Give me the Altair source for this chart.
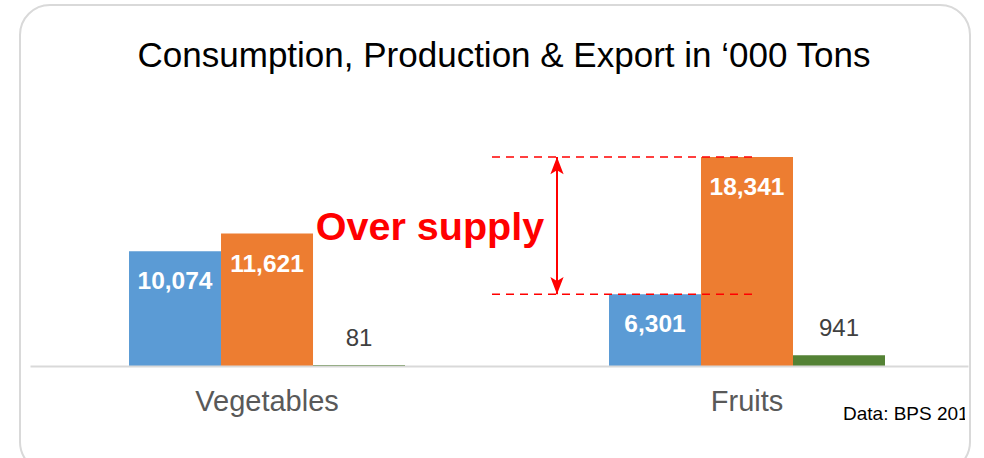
import altair as alt
import pandas as pd

categories = ["Vegetables", "Fruits"]
series = ["Consumption", "Production", "Export"]
consumption = [10074, 6301]
production = [11621, 18341]
export = [81, 941]
gap_values = [18341, 6301]
title_text = "Consumption, Production & Export in \u2018000 Tons"
note_text = "Data: BPS 201"
annot_text = "Over supply"

rows = []
for i, c in enumerate(categories):
    for s, vals in zip(series, [consumption, production, export]):
        rows.append({"cat": c, "series": s, "v": vals[i]})
df = pd.DataFrame(rows)

FONT = "Liberation Sans"
ydom = [0, 25098]
yscale = alt.Scale(domain=ydom, nice=False, zero=True)

x_enc = alt.X("cat:N", sort=categories, title=None,
              scale=alt.Scale(paddingInner=0.425, paddingOuter=0.1896, align=0.544),
              axis=alt.Axis(labelAngle=0, labelFontSize=29, labelColor="#595959", labelFont=FONT,
                            labelPadding=21, ticks=False, domainColor="#d9d9d9", domainWidth=2,
                            grid=False, zindex=1))
xo_enc = alt.XOffset("series:N", sort=series, scale=alt.Scale(paddingInner=0, paddingOuter=0))
y_enc = alt.Y("v:Q", scale=yscale, axis=None)

base = alt.Chart(df)

bars = base.mark_bar(cornerRadius=0).encode(
    x=x_enc, xOffset=xo_enc, y=y_enc,
    color=alt.Color("series:N", sort=series, legend=None,
                    scale=alt.Scale(domain=series, range=["#5b9bd5", "#ed7d31", "#548235"])),
)

inside = base.transform_filter(alt.datum.series != "Export").mark_text(
    color="white", fontWeight="bold", fontSize=24.5, font=FONT, baseline="middle", dy=31
).encode(x=x_enc, xOffset=xo_enc, y=y_enc, text=alt.Text("v:Q", format=","))

above = base.transform_filter(alt.datum.series == "Export").mark_text(
    color="#404040", fontSize=24, font=FONT, baseline="middle", dy=-26
).encode(x=x_enc, xOffset=xo_enc, y=y_enc, text=alt.Text("v:Q", format=","))

gap_df = pd.DataFrame({"v": gap_values})
dashes = alt.Chart(gap_df).mark_rule(color="#ff0000", strokeWidth=1.6, strokeDash=[8, 6]).encode(
    y=alt.Y("v:Q", scale=yscale, axis=None), x=alt.value(462), x2=alt.value(722)
)

arrow_df = pd.DataFrame({"v": [gap_values[0]], "v2": [gap_values[1]]})
arrow_line = alt.Chart(arrow_df).mark_rule(color="#ff0000", strokeWidth=2).encode(
    y=alt.Y("v:Q", scale=yscale, axis=None), y2="v2:Q", x=alt.value(527)
)
head_up = alt.Chart(pd.DataFrame({"v": [gap_values[0]]})).mark_point(
    shape="M0,0L-0.5,1.3L0,1L0.5,1.3Z", filled=True, color="#ff0000", opacity=1, size=700
).encode(y=alt.Y("v:Q", scale=yscale, axis=None), x=alt.value(527))
head_down = alt.Chart(pd.DataFrame({"v": [gap_values[1]]})).mark_point(
    shape="M0,0L-0.5,-1.3L0,-1L0.5,-1.3Z", filled=True, color="#ff0000", opacity=1, size=700
).encode(y=alt.Y("v:Q", scale=yscale, axis=None), x=alt.value(527))

over = alt.Chart(pd.DataFrame({"t": [annot_text]})).mark_text(
    color="#ff0000", fontWeight="bold", fontSize=39.5, font=FONT, align="center", baseline="middle"
).encode(text="t:N", x=alt.value(400), y=alt.value(148))

title = alt.Chart(pd.DataFrame({"t": [title_text]})).mark_text(
    color="#000000", fontSize=35, font=FONT, align="center", baseline="alphabetic"
).encode(text="t:N", x=alt.value(474), y=alt.value(-13))

note = alt.Chart(pd.DataFrame({"t": [note_text]})).mark_text(
    color="#000000", fontSize=19, font=FONT, align="left", baseline="alphabetic"
).encode(text="t:N", x=alt.value(813), y=alt.value(340))

cover = alt.Chart(pd.DataFrame({"t": [0]})).mark_rect(color="white").encode(
    x=alt.value(935), x2=alt.value(950), y=alt.value(310), y2=alt.value(350)
)

border = alt.Chart(pd.DataFrame({"t": [0]})).mark_rect(
    fill="white", fillOpacity=0, stroke="#d9d9d9", strokeWidth=2, cornerRadius=30
).encode(x=alt.value(-10), x2=alt.value(940), y=alt.value(-75), y2=alt.value(392))

chart = alt.layer(
    bars, inside, above, dashes, arrow_line, head_up, head_down, over, title, note, cover, border
).properties(
    width=938, height=286,
    autosize=alt.AutoSizeParams(type="none"),
    padding={"left": 30, "top": 80, "right": 16, "bottom": 92},
    background="white",
).configure_view(stroke=None)

chart.save("out.html", embed_options={"renderer": "svg", "actions": False})
